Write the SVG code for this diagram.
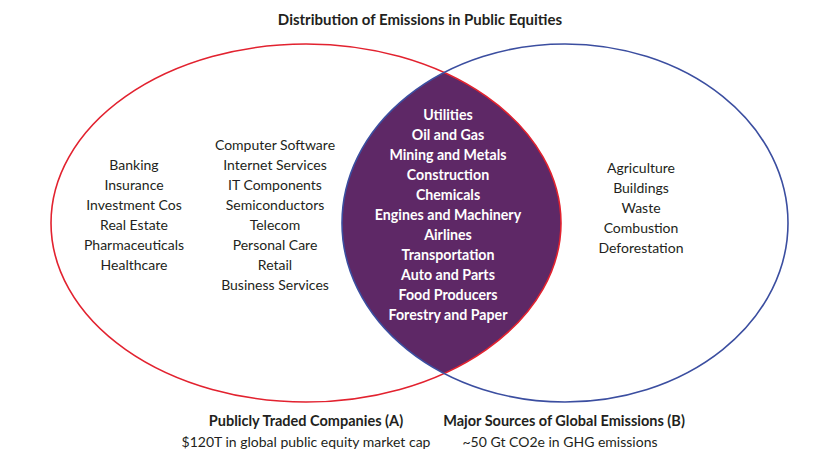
<svg xmlns="http://www.w3.org/2000/svg" width="840" height="464" viewBox="0 0 840 464">
<style>
text{font-family:Lato,"Open Sans","Liberation Sans",sans-serif;font-size:14px;text-anchor:middle;fill:#231f20}
.t{font-weight:bold;font-size:15px}
.b{font-weight:bold;font-size:14.5px}
.w{fill:#ffffff;font-weight:bold;font-size:14.2px}
.ea{fill:none;stroke:#e2222f;stroke-width:1.6}
.eb{fill:none;stroke:#3b4ea0;stroke-width:1.6}
</style>
<defs>
<clipPath id="clipA"><ellipse cx="306" cy="223" rx="255" ry="179"/></clipPath>
</defs>
<rect width="840" height="464" fill="#ffffff"/>
<text class="t" x="420" y="25">Distribution of Emissions in Public Equities</text>
<g id="overlap">
<ellipse cx="565" cy="223" rx="223" ry="179" fill="#5e2866" clip-path="url(#clipA)"/>
</g>
<g id="setA">
<ellipse class="ea" cx="306" cy="223" rx="255" ry="179"/>
</g>
<g id="setB">
<ellipse class="eb" cx="565" cy="223" rx="223" ry="179"/>
</g>
<g id="colA1">
<text x="134" y="170">Banking</text>
<text x="134" y="190">Insurance</text>
<text x="134" y="210">Investment Cos</text>
<text x="134" y="230">Real Estate</text>
<text x="134" y="250">Pharmaceuticals</text>
<text x="134" y="270">Healthcare</text>
</g>
<g id="colA2">
<text x="275" y="150">Computer Software</text>
<text x="275" y="170">Internet Services</text>
<text x="275" y="190">IT Components</text>
<text x="275" y="210">Semiconductors</text>
<text x="275" y="230">Telecom</text>
<text x="275" y="250">Personal Care</text>
<text x="275" y="270">Retail</text>
<text x="275" y="290">Business Services</text>
</g>
<g id="colAB">
<text class="w" x="448" y="120">Utilities</text>
<text class="w" x="448" y="140">Oil and Gas</text>
<text class="w" x="448" y="160">Mining and Metals</text>
<text class="w" x="448" y="180">Construction</text>
<text class="w" x="448" y="200">Chemicals</text>
<text class="w" x="448" y="220">Engines and Machinery</text>
<text class="w" x="448" y="240">Airlines</text>
<text class="w" x="448" y="260">Transportation</text>
<text class="w" x="448" y="280">Auto and Parts</text>
<text class="w" x="448" y="300">Food Producers</text>
<text class="w" x="448" y="320">Forestry and Paper</text>
</g>
<g id="colB">
<text x="641" y="173">Agriculture</text>
<text x="641" y="193">Buildings</text>
<text x="641" y="213">Waste</text>
<text x="641" y="233">Combustion</text>
<text x="641" y="253">Deforestation</text>
</g>
<g id="labelA">
<text class="b" x="306" y="426">Publicly Traded Companies (A)</text>
<text x="306" y="447">$120T in global public equity market cap</text>
</g>
<g id="labelB">
<text class="b" x="564" y="426">Major Sources of Global Emissions (B)</text>
<text x="560" y="447">~50 Gt CO2e in GHG emissions</text>
</g>
</svg>
